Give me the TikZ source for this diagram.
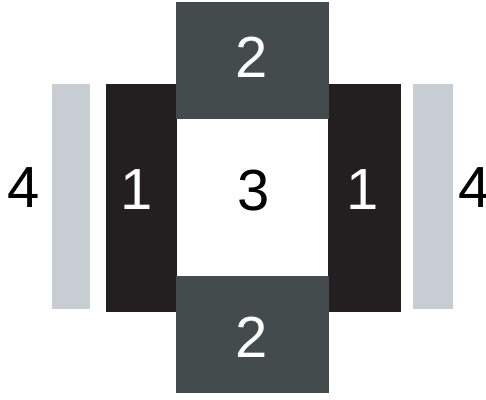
\documentclass[tikz,border=0pt]{standalone}
\usepackage{fontspec}
\setmainfont{Liberation Sans}
\definecolor{blk}{HTML}{231F20}
\definecolor{dgray}{HTML}{434B4D}
\definecolor{lgray}{HTML}{C8CCD3}
\begin{document}
\begin{tikzpicture}[x=1pt,y=1pt,
  box/.style={draw=none,inner sep=0pt,outer sep=0pt,anchor=north west},
  lbl/.style={font=\fontsize{58}{60}\selectfont,inner sep=0pt},
  wlbl/.style={lbl,text=white}]
\useasboundingbox (0,0) rectangle (486,399);
% light gray bars
\node[box,fill=lgray,minimum width=38pt,minimum height=225pt] (L4) at (52,315) {};
\node[box,fill=lgray,minimum width=40pt,minimum height=225pt] (R4) at (413,315) {};
% black bars
\node[box,fill=blk,minimum width=71pt,minimum height=228pt] (L1) at (106,315) {};
\node[box,fill=blk,minimum width=73pt,minimum height=228pt] (R1) at (328,315) {};
% dark gray boxes
\node[box,fill=dgray,minimum width=153pt,minimum height=117pt] (T2) at (176,397) {};
\node[box,fill=dgray,minimum width=153pt,minimum height=117pt] (B2) at (176,123) {};
% labels
\node[wlbl] (tT2) at (252,342) {2};
\node[wlbl] (tB2) at (252,62) {2};
\node[wlbl] (tL1) at (137,209) {1};
\node[wlbl] (tR1) at (363,209) {1};
\node[lbl] (t3) at (254,208) {3};
\node[lbl] (tL4) at (24,211) {4};
\node[lbl] (tR4) at (475,211) {4};
\end{tikzpicture}
\end{document}
